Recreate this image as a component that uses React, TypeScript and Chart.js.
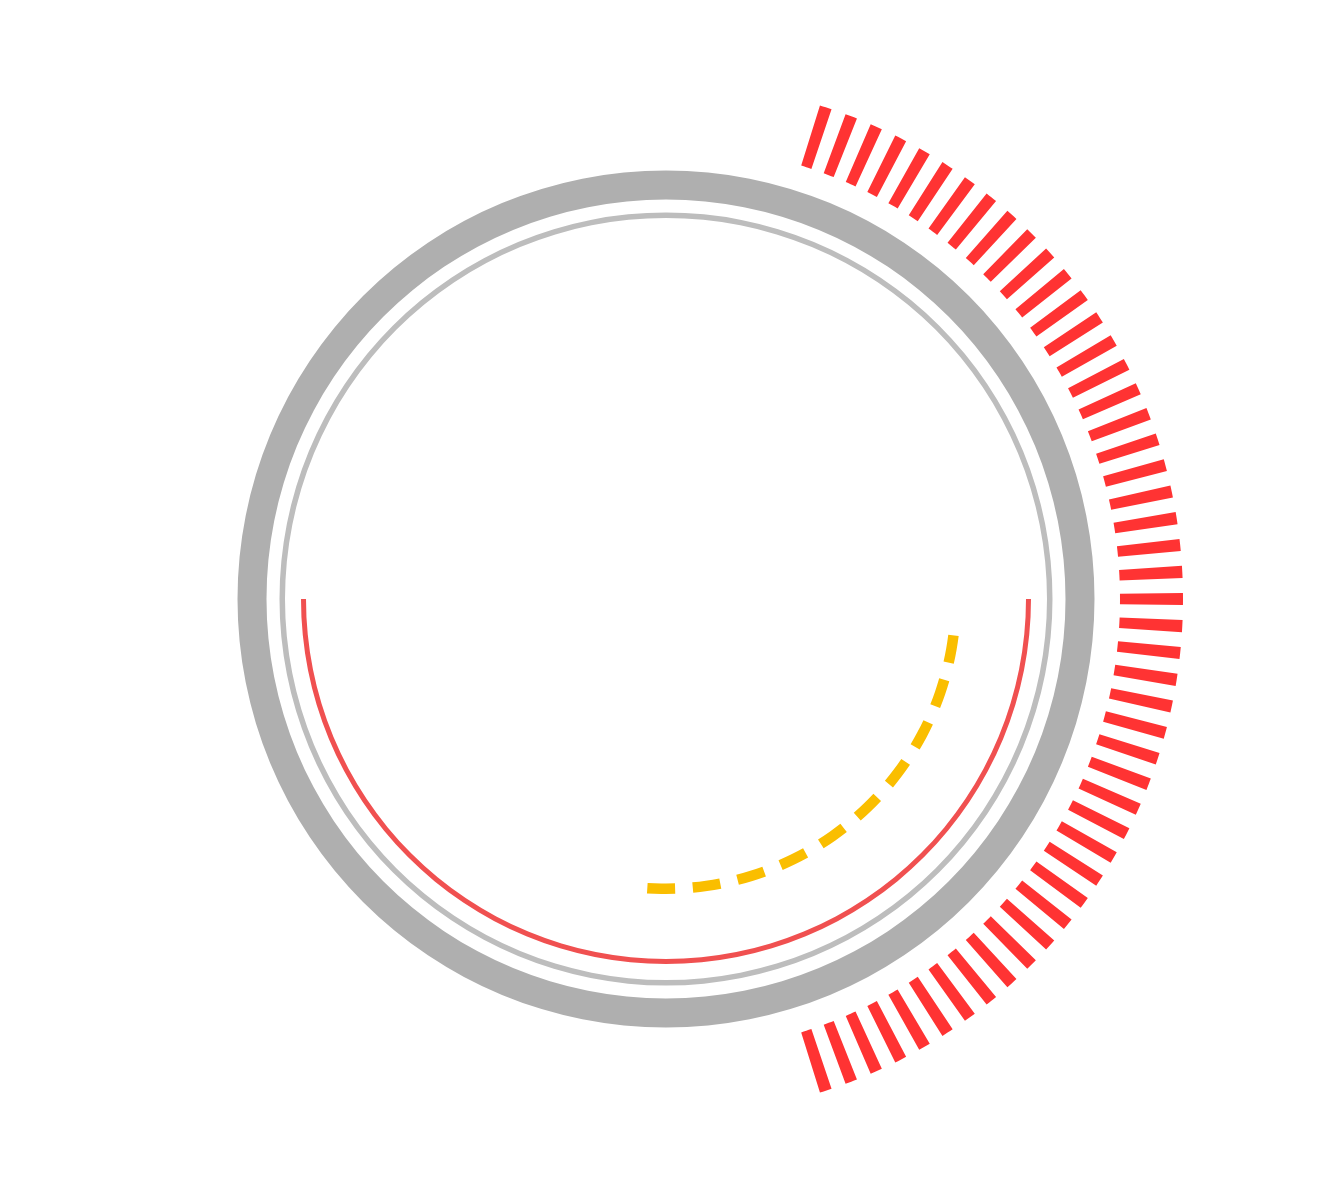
import { useEffect, useRef } from "react";
import Chart from "chart.js/auto";

// angles below are screen degrees, clockwise from 3 o'clock
const tickFirstDeg = -72;
const tickLastDeg = 72;
const tickStepDeg = 3;
const tickWidthDeg = 1.35;

const redArcFromDeg = 0;
const redArcToDeg = 180;

const yellowFromDeg = 7.2;
const yellowDashDeg = 5.5;
const yellowGapDeg = 3.5;
const yellowDashCount = 10;

// ring radii in px (outer edge, inner edge)
const ringNames = ["ticks", "gap1", "outerGray", "gap2", "thinGray", "gap3", "redArc", "gap4", "yellow"];
const ringOuter = [517, 454, 428.5, 399.5, 386.5, 381, 365, 360, 295];
const ringInner = [454, 428.5, 399.5, 386.5, 381, 365, 360, 295, 284.5];

const CLEAR = "rgba(0,0,0,0)";

const toChartRot = (screenDeg: number) => screenDeg + 90;

const App = () => {
  const chartRef = useRef<HTMLCanvasElement | null>(null);

  useEffect(() => {
    if (!chartRef.current) return;
    const ctx = chartRef.current.getContext("2d");
    if (!ctx) return;

    // tick ring: alternating red slivers and clear gaps
    const tickCount = Math.round((tickLastDeg - tickFirstDeg) / tickStepDeg) + 1;
    const tickData: number[] = [];
    const tickColors: string[] = [];
    for (let i = 0; i < tickCount; i++) {
      tickData.push(tickWidthDeg);
      tickColors.push("#ff3333");
      if (i < tickCount - 1) {
        tickData.push(tickStepDeg - tickWidthDeg);
        tickColors.push(CLEAR);
      }
    }
    const tickUsed = tickData.reduce((a, b) => a + b, 0);
    tickData.push(360 - tickUsed);
    tickColors.push(CLEAR);

    // yellow dashed arc
    const yData: number[] = [];
    const yColors: string[] = [];
    for (let i = 0; i < yellowDashCount; i++) {
      yData.push(yellowDashDeg);
      yColors.push("#fabe00");
      if (i < yellowDashCount - 1) {
        yData.push(yellowGapDeg);
        yColors.push(CLEAR);
      }
    }
    const yUsed = yData.reduce((a, b) => a + b, 0);
    yData.push(360 - yUsed);
    yColors.push(CLEAR);

    const redSpan = redArcToDeg - redArcFromDeg;

    const ringData: Record<string, { data: number[]; colors: string[]; rotation: number }> = {
      ticks: { data: tickData, colors: tickColors, rotation: toChartRot(tickFirstDeg - tickWidthDeg / 2) },
      gap1: { data: [1], colors: [CLEAR], rotation: 0 },
      outerGray: { data: [1], colors: ["#afafaf"], rotation: 0 },
      gap2: { data: [1], colors: [CLEAR], rotation: 0 },
      thinGray: { data: [1], colors: ["#bdbdbd"], rotation: 0 },
      gap3: { data: [1], colors: [CLEAR], rotation: 0 },
      redArc: { data: [redSpan, 360 - redSpan], colors: ["#f05050", CLEAR], rotation: toChartRot(redArcFromDeg) },
      gap4: { data: [1], colors: [CLEAR], rotation: 0 },
      yellow: { data: yData, colors: yColors, rotation: toChartRot(yellowFromDeg) },
    };

    const outerR = ringOuter[0];
    const innerR = ringInner[ringInner.length - 1];

    const chartInstance = new Chart(ctx, {
      type: "doughnut",
      data: {
        labels: [],
        datasets: ringNames.map((name, i) => ({
          label: name,
          data: ringData[name].data,
          backgroundColor: ringData[name].colors,
          borderWidth: 0,
          weight: ringOuter[i] - ringInner[i],
          rotation: ringData[name].rotation,
          circumference: 360,
        })),
      },
      options: {
        animation: false,
        responsive: true,
        maintainAspectRatio: false,
        events: [],
        radius: outerR,
        cutout: `${(innerR / outerR) * 100}%`,
        layout: { padding: 0 },
        elements: { arc: { borderWidth: 0 } },
        plugins: {
          legend: { display: false },
          tooltip: { enabled: false },
        },
      } as any,
    });

    return () => {
      chartInstance.destroy();
    };
  }, []);

  return (
    <div style={{ width: 1316, height: 1182, position: "relative" }}>
      <canvas ref={chartRef}></canvas>
    </div>
  );
};

export default App;
